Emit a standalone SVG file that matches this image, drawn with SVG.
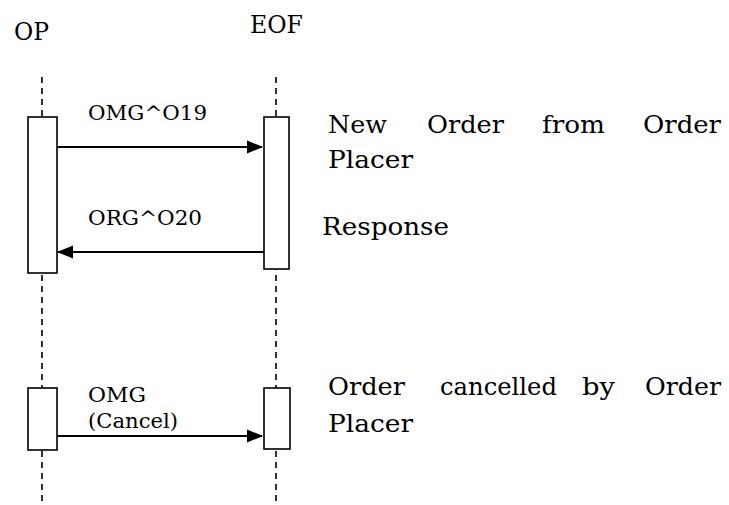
<svg xmlns="http://www.w3.org/2000/svg" width="729" height="505" viewBox="0 0 729 505">
<style>
.life{stroke:#000;stroke-width:1.6;stroke-dasharray:6 5;fill:none}
.act{fill:#fff;stroke:#000;stroke-width:1.6}
.msg{stroke:#000;stroke-width:2.2;fill:none}
text{font-family:"DejaVu Serif","Liberation Serif",serif;fill:#000}
.hdr{font-size:24px}
.lbl{font-size:21px}
.note{font-size:25px}
</style>
<defs>
<marker id="ah" markerWidth="16" markerHeight="14" refX="15" refY="7" orient="auto" markerUnits="userSpaceOnUse">
<path d="M0,0.5 L16,7 L0,13.5 Z" fill="#000"/>
</marker>
</defs>
<g id="lifelines">
<line class="life" x1="42" y1="77" x2="42" y2="505"/>
<line class="life" x1="276" y1="77" x2="276" y2="505"/>
</g>
<g id="OP">
<text class="hdr" x="14" y="40" textLength="35" lengthAdjust="spacingAndGlyphs">OP</text>
<rect class="act" x="28" y="117" width="29" height="156"/>
<rect class="act" x="28" y="388" width="29" height="62"/>
</g>
<g id="EOF">
<text class="hdr" x="250" y="33" textLength="53" lengthAdjust="spacingAndGlyphs">EOF</text>
<rect class="act" x="264" y="117" width="25" height="152"/>
<rect class="act" x="264" y="388" width="26" height="61"/>
</g>
<g id="connectors">
<line class="msg" x1="57" y1="147" x2="262" y2="147" marker-end="url(#ah)"/>
<line class="msg" x1="264" y1="252" x2="58" y2="252" marker-end="url(#ah)"/>
<line class="msg" x1="57" y1="436" x2="262" y2="436" marker-end="url(#ah)"/>
</g>
<g id="labels">
<text class="lbl" x="88" y="120" textLength="119" lengthAdjust="spacingAndGlyphs">OMG^O19</text>
<text class="lbl" x="88" y="225" textLength="114" lengthAdjust="spacingAndGlyphs">ORG^O20</text>
<text class="lbl" x="88" y="402" textLength="58" lengthAdjust="spacingAndGlyphs">OMG</text>
<text class="lbl" x="88" y="428" textLength="90" lengthAdjust="spacingAndGlyphs">(Cancel)</text>
</g>
<g id="notes">
<text class="note" y="133"><tspan x="328" textLength="59" lengthAdjust="spacingAndGlyphs">New</tspan> <tspan x="427" textLength="77" lengthAdjust="spacingAndGlyphs">Order</tspan> <tspan x="542" textLength="63" lengthAdjust="spacingAndGlyphs">from</tspan> <tspan x="643" textLength="78" lengthAdjust="spacingAndGlyphs">Order</tspan></text>
<text class="note" x="328" y="168" textLength="85" lengthAdjust="spacingAndGlyphs">Placer</text>
<text class="note" x="322" y="235" textLength="127" lengthAdjust="spacingAndGlyphs">Response</text>
<text class="note" y="395"><tspan x="328" textLength="77" lengthAdjust="spacingAndGlyphs">Order</tspan> <tspan x="440" textLength="117" lengthAdjust="spacingAndGlyphs">cancelled</tspan> <tspan x="582" textLength="33" lengthAdjust="spacingAndGlyphs">by</tspan> <tspan x="645" textLength="76" lengthAdjust="spacingAndGlyphs">Order</tspan></text>
<text class="note" x="328" y="432" textLength="85" lengthAdjust="spacingAndGlyphs">Placer</text>
</g>
</svg>
